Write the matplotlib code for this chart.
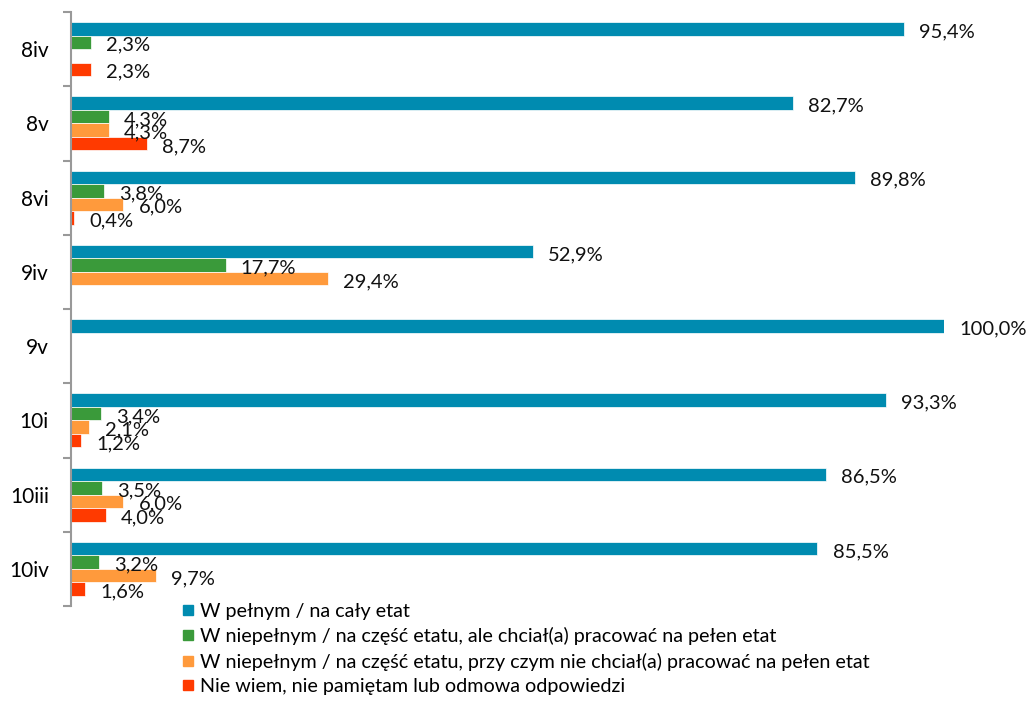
import numpy as np
import matplotlib.pyplot as plt
from matplotlib.lines import Line2D

plt.rcParams['font.family'] = ['Lato', 'DejaVu Sans']

categories = ['8iv', '8v', '8vi', '9iv', '9v', '10i', '10iii', '10iv']
series_names = ['W pełnym / na cały etat',
                'W niepełnym / na część etatu, ale chciał(a) pracować na pełen etat',
                'W niepełnym / na część etatu, przy czym nie chciał(a) pracować na pełen etat',
                'Nie wiem, nie pamiętam lub odmowa odpowiedzi']
full_time = [95.4, 82.7, 89.8, 52.9, 100.0, 93.3, 86.5, 85.5]
part_wanted = [2.3, 4.3, 3.8, 17.7, 0, 3.4, 3.5, 3.2]
part_not_wanted = [0, 4.3, 6.0, 29.4, 0, 2.1, 6.0, 9.7]
dont_know = [2.3, 8.7, 0.4, 0, 0, 1.2, 4.0, 1.6]
colors = ['#008bb0', '#3a9a3a', '#ff9a3c', '#ff3a00']

series = [full_time, part_wanted, part_not_wanted, dont_know]

fig = plt.figure(figsize=(10.34, 7.04), dpi=100)
ax = fig.add_axes([71/1034, 1 - 606/704, (944-71)/1034, (606-12)/704])

y = np.arange(len(categories))
h = 0.182
for k, (vals, col) in enumerate(zip(series, colors)):
    pos = y + (k - 1.5) * h
    ax.barh(pos, vals, height=h, color=col, edgecolor='white', linewidth=0.5)
    for p, v in zip(pos, vals):
        if v > 0:
            ax.annotate(('%.1f%%' % v).replace('.', ','), (v, p), xytext=(11, -2),
                        textcoords='offset points', va='center', ha='left',
                        fontsize=14.5, color='#111111')

ax.set_xlim(0, 100)
ax.set_ylim(len(categories) - 0.5, -0.5)
ax.set_yticks(np.arange(len(categories) + 1) - 0.5)
ax.set_yticklabels([])
ax.set_yticks(y, minor=True)
ax.set_yticklabels(categories, minor=True, fontsize=15)
ax.tick_params(axis='y', which='major', length=6, color='#999999', width=1.5)
ax.tick_params(axis='y', which='minor', length=0, pad=16)
ax.set_xticks([])
for s in ['top', 'right', 'bottom']:
    ax.spines[s].set_visible(False)
ax.spines['left'].set_color('#999999')
ax.spines['left'].set_linewidth(1.5)

handles = [Line2D([], [], marker='s', linestyle='none', markersize=7.5,
                  markerfacecolor=c, markeredgecolor=c) for c in colors]
fig.legend(handles, series_names, loc='upper left', bbox_to_anchor=(180/1034, 1 - 603/704),
           frameon=False, fontsize=14.2, handletextpad=0.2, labelspacing=0.37,
           borderaxespad=0, borderpad=0, handlelength=0.8)

fig.savefig('out.png', dpi=100)
